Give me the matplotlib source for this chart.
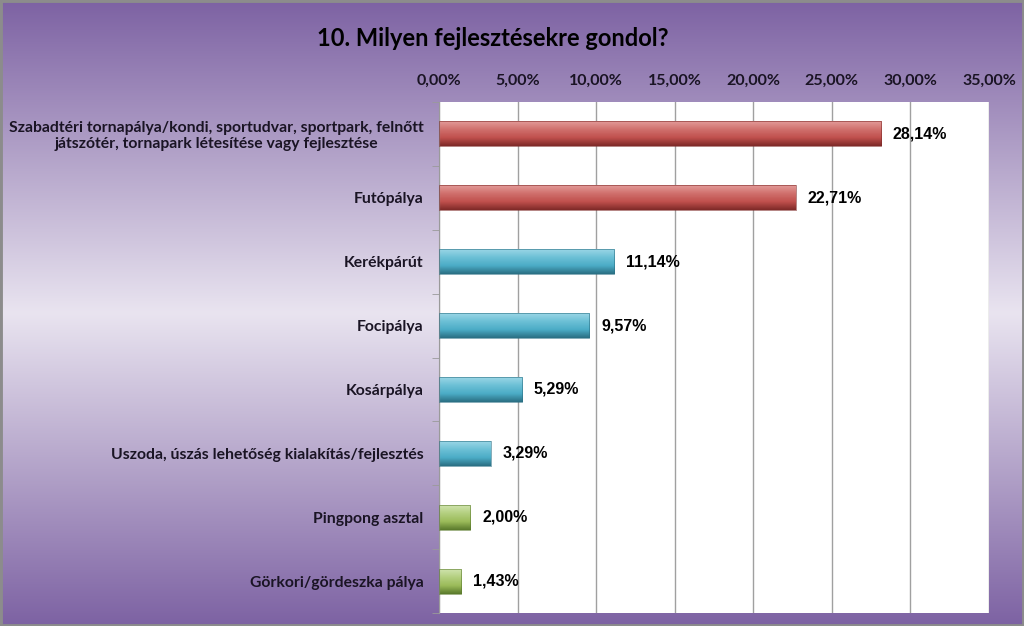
import matplotlib
import numpy as np

matplotlib.use("Agg")
import matplotlib.pyplot as plt
from matplotlib.colors import LinearSegmentedColormap

TITLE = "10. Milyen fejlesztésekre gondol?"

CATEGORIES = [
    "Szabadtéri tornapálya/kondi, sportudvar, sportpark, felnőtt\njátszótér, tornapark létesítése vagy fejlesztése",
    "Futópálya",
    "Kerékpárút",
    "Focipálya",
    "Kosárpálya",
    "Uszoda, úszás lehetőség kialakítás/fejlesztés",
    "Pingpong asztal",
    "Görkori/gördeszka pálya",
]
VALUES = [28.14, 22.71, 11.14, 9.57, 5.29, 3.29, 2.00, 1.43]
GROUPS = ["red", "red", "teal", "teal", "teal", "teal", "green", "green"]
TICKS = [0, 5, 10, 15, 20, 25, 30, 35]

# light top -> dark bottom for each bar colour
BAR_COLORS = {
    "red": ["#e39a98", "#d0706d", "#c0504d", "#7e2a28"],
    "teal": ["#9ad6e6", "#6cc0d6", "#4bacc6", "#2a6f83"],
    "green": ["#cfe3ad", "#b3cf7f", "#9bbb59", "#5a7a2c"],
}

LABEL_FONT = ["Lato", "DejaVu Sans"]
VALUE_FONT = ["Liberation Sans", "DejaVu Sans"]


def fmt(v):
    return f"{v:.2f}".replace(".", ",") + "%"


fig = plt.figure(figsize=(10.24, 6.26), dpi=100)

# purple background gradient, lighter in the middle
bg = fig.add_axes([0, 0, 1, 1], zorder=0)
bg_cmap = LinearSegmentedColormap.from_list(
    "bg", ["#7d62a3", "#b3a3c9", "#e9e4f0", "#b3a3c9", "#7d62a3"]
)
bg.imshow(np.linspace(0, 1, 256).reshape(-1, 1), cmap=bg_cmap, aspect="auto",
          extent=[0, 1, 0, 1])
bg.set_xlim(0, 1)
bg.set_ylim(0, 1)
bg.axis("off")
fig.patches.append(plt.Rectangle((0, 0), 1, 1, transform=fig.transFigure,
                                 fill=False, edgecolor="#8c8c8c", linewidth=3.5))

ax = fig.add_axes([439 / 1024, 1 - 613 / 626, 550 / 1024, 511 / 626], zorder=1)
ax.set_facecolor("white")
n = len(CATEGORIES)

ax.set_xticks(TICKS)
ax.set_xticklabels([fmt(t) for t in TICKS], fontfamily=LABEL_FONT,
                   fontweight="bold", fontsize=11.5, color="#1a1424")
ax.xaxis.tick_top()
ax.tick_params(axis="x", length=0, pad=10)
ax.grid(axis="x", color="#a0a0a0", linewidth=1)
ax.set_axisbelow(True)

ax.set_yticks(range(n))
ax.set_yticklabels(CATEGORIES, fontfamily=LABEL_FONT, fontweight="bold",
                   fontsize=11.3, color="#1a1424", ha="right",
                   multialignment="center", linespacing=1.15)
ax.tick_params(axis="y", length=0, pad=11)
ax.set_yticks(np.arange(n + 1) - 0.5, minor=True)
ax.tick_params(axis="y", which="minor", length=5, color="#9a9a9a")

for s in ["top", "right", "bottom"]:
    ax.spines[s].set_visible(False)
ax.spines["left"].set_color("#9a9a9a")

bar_h = 0.39
grad = np.linspace(0, 1, 64).reshape(-1, 1)
for i, (v, g) in enumerate(zip(VALUES, GROUPS)):
    cmap = LinearSegmentedColormap.from_list(g, BAR_COLORS[g])
    ax.imshow(grad, cmap=cmap, aspect="auto",
              extent=[0, v, i + bar_h / 2, i - bar_h / 2], zorder=2)
    ax.add_patch(plt.Rectangle((0, i - bar_h / 2), v, bar_h, fill=False,
                               edgecolor=BAR_COLORS[g][-1], linewidth=0.4,
                               zorder=3))
    ax.text(v + 0.75, i, fmt(v), va="center", ha="left", fontsize=11.5,
            fontweight="bold", fontfamily=VALUE_FONT, color="black", zorder=4)

ax.set_xlim(0, 35)
ax.set_ylim(n - 0.5, -0.5)

fig.text(493 / 1024, 1 - 38 / 626, TITLE, ha="center", va="center",
         fontsize=17, fontweight="bold", fontfamily=LABEL_FONT, color="black")

fig.savefig("out.png", dpi=100)
